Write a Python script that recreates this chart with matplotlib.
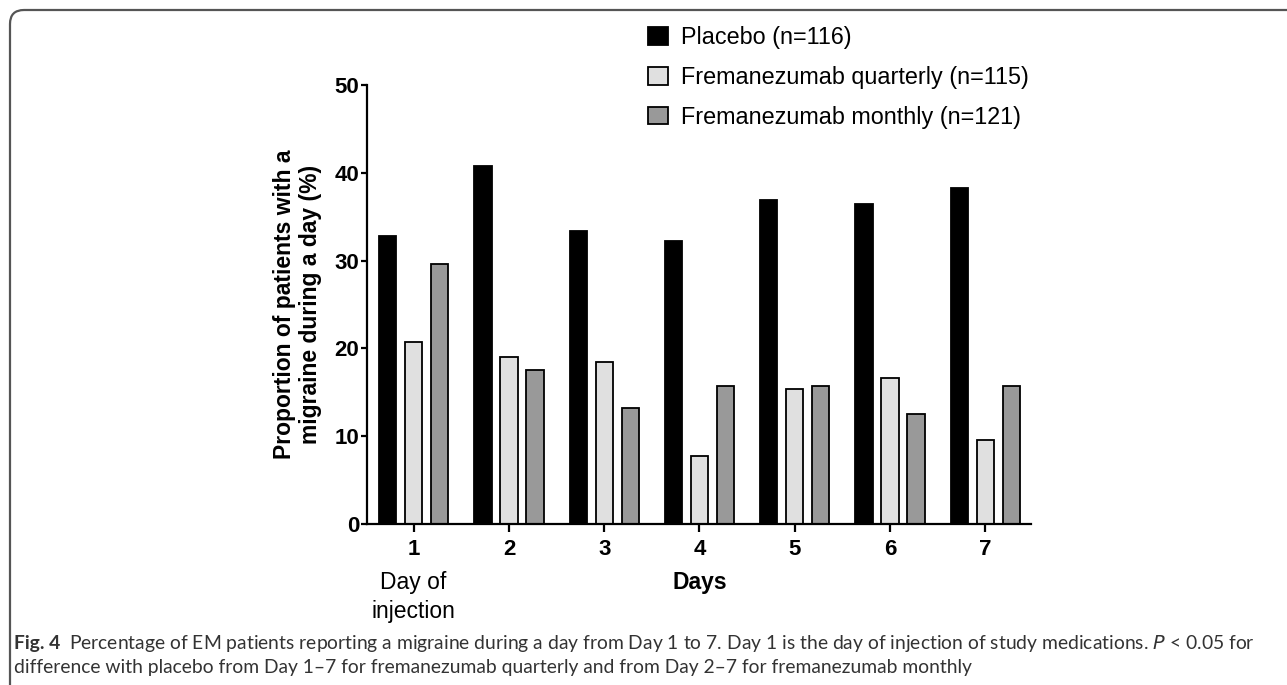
import matplotlib.pyplot as plt
from matplotlib.patches import PathPatch
from matplotlib.path import Path
import numpy as np

days = [1, 2, 3, 4, 5, 6, 7]
day_labels = ["1", "2", "3", "4", "5", "6", "7"]
placebo = [32.8, 40.8, 33.4, 32.2, 36.9, 36.5, 38.3]
quarterly = [20.7, 19.05, 18.5, 7.7, 15.35, 16.6, 9.6]
monthly = [29.65, 17.5, 13.25, 15.75, 15.75, 12.5, 15.75]

series = [
    ("Placebo (n=116)", placebo, "#000000"),
    ("Fremanezumab quarterly (n=115)", quarterly, "#e0e0e0"),
    ("Fremanezumab monthly (n=121)", monthly, "#999999"),
]

plt.rcParams['font.family'] = ['Liberation Sans', 'DejaVu Sans']

W, H = 1287, 685
fig = plt.figure(figsize=(W / 100, H / 100), dpi=100)

# frame with rounded top-left corner
r = 14
x0, y0 = 10 / W, 1 - 10 / H
verts = [(x0, 0), (x0, y0 - r / H), (x0, y0), (x0 + r / W, y0), (1, y0)]
codes = [Path.MOVETO, Path.LINETO, Path.CURVE3, Path.CURVE3, Path.LINETO]
fig.patches.append(PathPatch(Path(verts, codes), transform=fig.transFigure,
                             fill=False, edgecolor="#555555", lw=1.6))

ax = fig.add_axes([367 / W, 1 - 524 / H, (1031 - 367) / W, (524 - 85) / H])

x = np.array(days, dtype=float)
offset = 0.273
width = 0.18
for i, (name, vals, col) in enumerate(series):
    ax.bar(x + (i - 1) * offset, vals, width, color=col, edgecolor="black",
           linewidth=1.3, label=name)

ax.set_xlim(0.51, 7.48)
ax.set_ylim(0, 50)
ax.set_yticks([0, 10, 20, 30, 40, 50])
ax.set_xticks(days)
ax.set_xticklabels(day_labels)
for s in ["top", "right"]:
    ax.spines[s].set_visible(False)
for s in ["left", "bottom"]:
    ax.spines[s].set_linewidth(1.6)
ax.tick_params(axis="y", length=4.5, width=1.6, pad=1, labelsize=16)
ax.tick_params(axis="x", length=6, width=1.6, pad=5, labelsize=16)
for t in ax.get_xticklabels() + ax.get_yticklabels():
    t.set_fontweight("bold")

ax.set_ylabel("Proportion of patients with a\nmigraine during a day (%)",
              fontsize=16.5, fontweight="bold", labelpad=9, linespacing=1.15)

fig.text(700 / W, 1 - 583 / H, "Days", ha="center", va="center",
         fontsize=16.5, fontweight="bold")
fig.text(413 / W, 1 - 597 / H, "Day of\ninjection", ha="center", va="center",
         fontsize=16.5, linespacing=1.3)

leg = fig.legend(loc="upper left", bbox_to_anchor=(648 / W, 1 - 26 / H),
                 borderaxespad=0, borderpad=0,
                 frameon=False, fontsize=16.8, handlelength=0.85, handleheight=0.8,
                 handletextpad=0.55, labelspacing=0.72)

cap_font = ['Lato', 'DejaVu Sans']
cap_size = 13.9
renderer = fig.canvas.get_renderer()
fig_lbl = fig.text(14 / W, 1 - 643 / H, "Fig. 4", fontsize=cap_size, fontweight="bold",
                   family=cap_font, color="#333333", va="center")
bb = fig_lbl.get_window_extent(renderer)
fig.text((bb.x1 + 9) / W, 1 - 643 / H,
         "Percentage of EM patients reporting a migraine during a day from Day 1 to 7. "
         "Day 1 is the day of injection of study medications. $\\it{P}$ < 0.05 for",
         fontsize=cap_size, family=cap_font, color="#333333", va="center")
fig.text(14 / W, 1 - 668 / H,
         "difference with placebo from Day 1–7 for fremanezumab quarterly and "
         "from Day 2–7 for fremanezumab monthly",
         fontsize=cap_size, family=cap_font, color="#333333", va="center")

fig.savefig("out.png", dpi=100)
